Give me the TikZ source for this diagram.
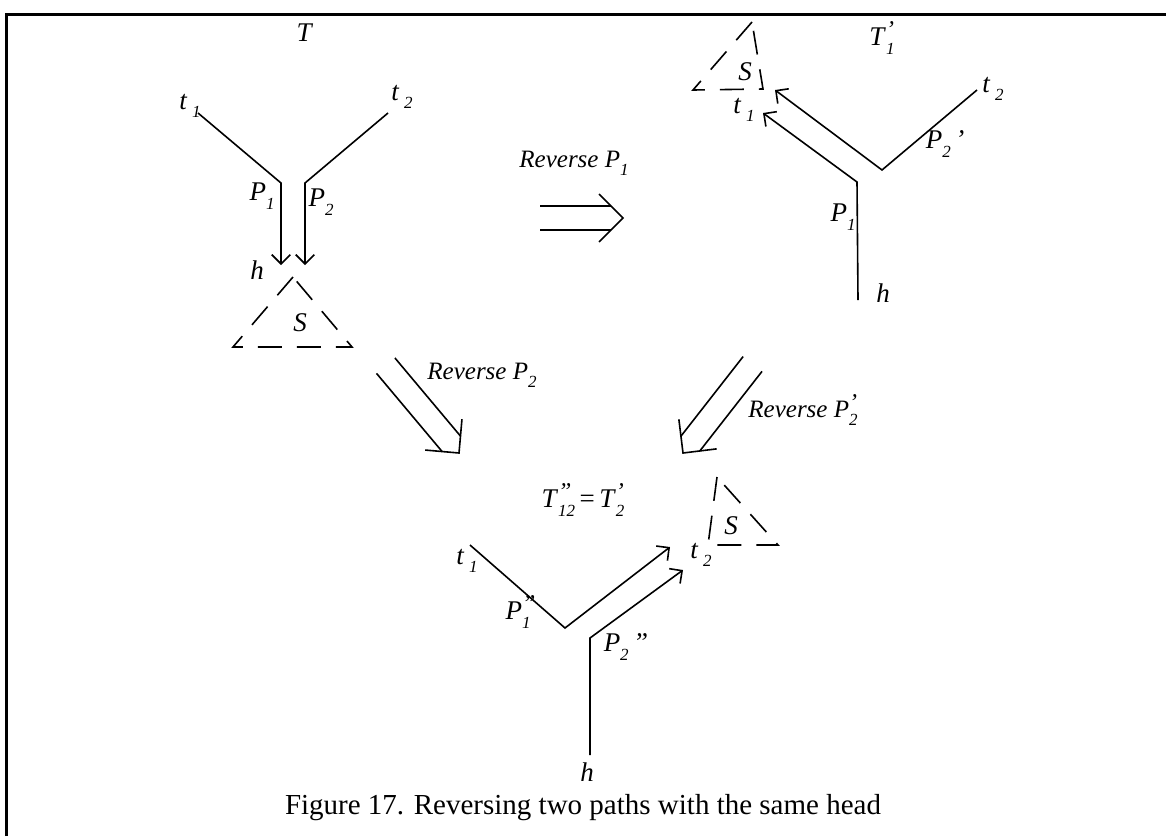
\documentclass[tikz,border=0pt]{standalone}
\usepackage{fontspec}
\setmainfont{Liberation Serif}
\usetikzlibrary{arrows.meta}

% label with raised and lowered index
\newcommand{\ix}{\fontsize{8.5}{9}\selectfont\itshape}
\newcommand{\pr}{\fontsize{12}{13}\selectfont\itshape}
\newcommand{\lab}[3]{\textit{#1}\makebox[0pt][l]{\raisebox{0.65ex}{\pr #2}}\raisebox{-0.7ex}{\ix #3}}
% open double arrow: tip, angle, shaft length
\newcommand{\revarrow}[3]{%
  \begin{scope}[shift={(#1)},rotate=#2]
    \draw[big] (-#3,12)--(-12,12) (-#3,-12)--(-12,-12);
    \draw[big] (-24,24)--(0,0)--(-24,-24);
  \end{scope}}

\begin{document}
\begin{tikzpicture}[x=0.5pt,y=-0.5pt,>={Straight Barb[length=4.6pt,width=9.2pt]},
  path/.style={line width=0.8pt},
  big/.style={line width=0.8pt},
  sreg/.style={line width=0.8pt,dash pattern=on 12pt off 7.5pt},
  lbl/.style={font=\fontsize{13.5}{15}\selectfont,inner sep=1pt},
  rev/.style={font=\fontsize{12.5}{15}\selectfont\itshape,inner sep=1pt}]
  \useasboundingbox (0,0) rectangle (1166,836);
  \draw[line width=1.5pt] (6,836)--(6,14)--(1166,14);

  % tree T
  \node[lbl] (tT) at (305,33) {\textit{T}};
  \coordinate (a1) at (198,113); \coordinate (a2) at (281,183); \coordinate (a3) at (281,265);
  \coordinate (b1) at (388,113); \coordinate (b2) at (305,183); \coordinate (b3) at (305,265);
  \draw[path,->] (a1)--(a2)--(a3);
  \draw[path,->] (b1)--(b2)--(b3);
  \node[lbl] (t1a) at (190,106) {\textit{t}\,\lab{}{}{1}};
  \node[lbl] (t2a) at (402,97) {\textit{t}\,\lab{}{}{2}};
  \node[lbl] (p1a) at (262,196) {\lab{P}{}{1}};
  \node[lbl] (p2a) at (321,202) {\lab{P}{}{2}};
  \node[lbl] (ha) at (257,270) {\textit{h}};
  \coordinate (sa1) at (293,277); \coordinate (sa2) at (233,347); \coordinate (sa3) at (352,347);
  \draw[sreg] (sa1)--(sa2)--(sa3)--cycle;
  \node[lbl] (sa) at (300,323) {\textit{S}};

  % Reverse P1
  \node[rev] (r1) at (574,163) {Reverse \lab{P}{}{1}};
  \coordinate (r1tip) at (623,218);
  \revarrow{r1tip}{0}{83}

  % tree T1'
  \node[lbl] (tT1) at (882,38) {\lab{T}{'}{1}};
  \coordinate (c1) at (858,300); \coordinate (c2) at (857,182); \coordinate (c3) at (763,113);
  \coordinate (d1) at (977,90); \coordinate (d2) at (882,170); \coordinate (d3) at (775,90);
  \draw[path,->] (c1)--(c2)--(c3);
  \draw[path,->] (d1)--(d2)--(d3);
  \coordinate (sb1) at (752,22); \coordinate (sb2) at (693,90); \coordinate (sb3) at (763,89);
  \draw[sreg] (sb1)--(sb2)--(sb3)--cycle;
  \node[lbl] (sb) at (745,72) {\textit{S}};
  \node[lbl] (t1b) at (744,110) {\textit{t}\,\lab{}{}{1}};
  \node[lbl] (t2b) at (993,89) {\textit{t}\,\lab{}{}{2}};
  \node[lbl] (p2b) at (945,144) {\lab{P}{}{2}\,\textit{'}};
  \node[lbl] (p1b) at (843,217) {\lab{P}{}{1}};
  \node[lbl] (hb) at (883,293) {\textit{h}};

  % Reverse P2 and Reverse P2'
  \node[rev] (r2) at (482,375) {Reverse \lab{P}{}{2}};
  \coordinate (r2tip) at (459,453);
  \revarrow{r2tip}{-50}{114}
  \node[rev] (r3) at (803,410) {Reverse \lab{P}{'}{2}};
  \coordinate (r3tip) at (683,453);
  \revarrow{r3tip}{-128}{113}

  % tree T12'' = T2'
  \node[lbl] (tT2) at (583,500) {\lab{T}{''}{12}\,=\,\lab{T}{'}{2}};
  \coordinate (e1) at (470,545); \coordinate (e2) at (565,628); \coordinate (e3) at (670,547);
  \coordinate (f1) at (590,755); \coordinate (f2) at (590,638); \coordinate (f3) at (683,570);
  \draw[path,->] (e1)--(e2)--(e3);
  \draw[path,->] (f1)--(f2)--(f3);
  \coordinate (sc1) at (717,477); \coordinate (sc2) at (708,545); \coordinate (sc3) at (778,545);
  \draw[sreg] (sc1)--(sc2)--(sc3)--cycle;
  \node[lbl] (sc) at (731,526) {\textit{S}};
  \node[lbl] (t1c) at (467,561) {\textit{t}\,\lab{}{}{1}};
  \node[lbl] (t2c) at (701,555) {\textit{t}\,\lab{}{}{2}};
  \node[lbl] (p1c) at (518,612) {\lab{P}{''}{1}};
  \node[lbl] (p2c) at (626,647) {\lab{P}{}{2}\,\textit{''}};
  \node[lbl] (hc) at (587,772) {\textit{h}};

  \node[font=\fontsize{14.5}{17}\selectfont] (cap) at (583,808) {Figure 17. Reversing two paths with the same head};
\end{tikzpicture}
\end{document}
